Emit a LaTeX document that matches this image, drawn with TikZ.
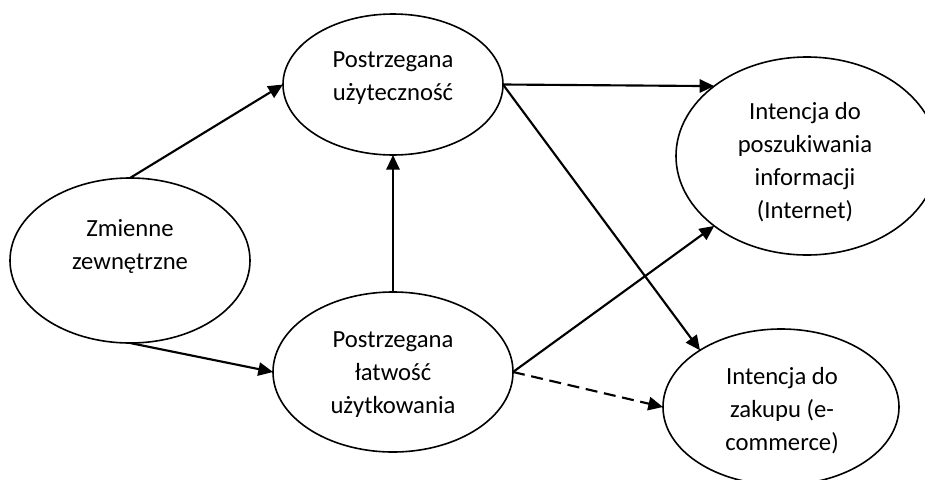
\documentclass[tikz,border=0pt]{standalone}
\usepackage{fontspec}
\setmainfont{Carlito}
\usetikzlibrary{arrows.meta}
\usetikzlibrary{shapes.geometric}

\begin{document}
\begin{tikzpicture}[x=0.75pt,y=-0.75pt,>={Triangle[length=11pt,width=10pt]},
    line width=1.6pt,
    oval node/.style={ellipse,draw,line width=1.2pt,inner sep=0pt,outer sep=0pt},
    text node/.style={align=center,inner sep=0pt,font=\fontsize{18.5}{24.75}\selectfont}]
  \useasboundingbox (0,0) rectangle (925,479);
  % ellipses
  \node[oval node,minimum width=180pt,minimum height=123.75pt] (zm) at (130,260.5) {};
  \node[oval node,minimum width=165pt,minimum height=105.75pt] (pu) at (393,84.5) {};
  \node[oval node,minimum width=180pt,minimum height=120pt] (peou) at (393,372) {};
  \node[oval node,minimum width=196.5pt,minimum height=148.5pt] (info) at (807,156) {};
  \node[oval node,minimum width=177pt,minimum height=117pt] (zakup) at (781,407) {};
  % texts
  \node[text node] (zm-txt) at (130,246) {Zmienne\\zewnętrzne};
  \node[text node] (pu-txt) at (393,78) {Postrzegana\\użyteczność};
  \node[text node] (peou-txt) at (393,375) {Postrzegana\\łatwość\\użytkowania};
  \node[text node] (info-txt) at (805,162) {Intencja do\\poszukiwania\\informacji\\(Internet)};
  \node[text node] (zakup-txt) at (782,411) {Intencja do\\zakupu (e-\\commerce)};
  % arrows
  \path[->] (zm.north) edge (pu.west);
  \path[->] (zm.south) edge (peou.west);
  \path[->] (peou.north) edge (pu.south);
  \path[->] (pu.east) edge (info.143);
  \path[->] (pu.east) edge (zakup.145.5);
  \path[->] (peou.east) edge (info.217);
  \path[->,dash pattern=on 9pt off 5pt] (peou.east) edge (zakup.west);
\end{tikzpicture}
\end{document}
